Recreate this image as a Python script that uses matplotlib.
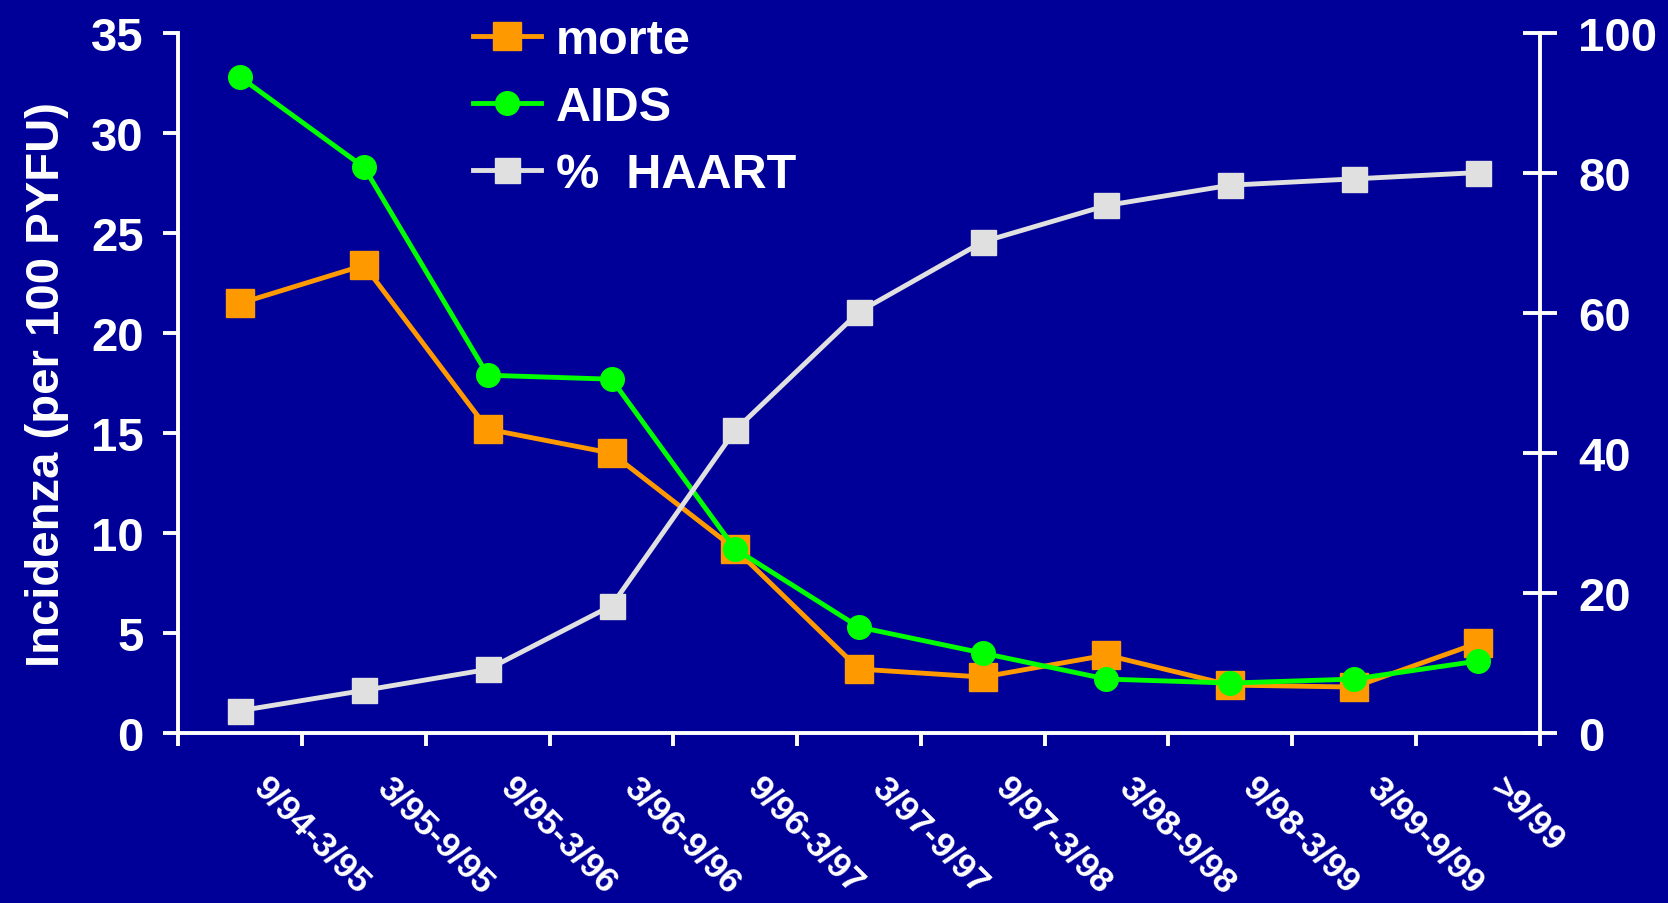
import matplotlib
matplotlib.use("Agg")
import matplotlib.pyplot as plt
import matplotlib.transforms as mtransforms
import numpy as np

# dati
periodi = ["9/94-3/95", "3/95-9/95", "9/95-3/96", "3/96-9/96", "9/96-3/97",
           "3/97-9/97", "9/97-3/98", "3/98-9/98", "9/98-3/99", "3/99-9/99", ">9/99"]
morte = [21.5, 23.4, 15.2, 14.0, 9.2, 3.2, 2.8, 3.9, 2.4, 2.3, 4.5]
aids = [32.8, 28.3, 17.9, 17.7, 9.2, 5.3, 4.0, 2.7, 2.5, 2.7, 3.6]
haart = [3.2, 6.1, 9.1, 18.2, 43.3, 60.2, 70.2, 75.4, 78.3, 79.2, 80.1]

BG = "#000099"
WHITE = "white"

plt.rcParams["font.family"] = ["Liberation Sans", "DejaVu Sans"]
plt.rcParams["font.weight"] = "bold"

fig = plt.figure(figsize=(16.68, 9.04), dpi=100, facecolor=BG)
ax = fig.add_axes([0.107, 0.188, 0.816, 0.774])
ax.set_facecolor(BG)
ax2 = ax.twinx()

x = np.arange(len(periodi))

l1, = ax.plot(x, morte, color="#FF9900", lw=3.5, marker="s", ms=20,
              mec="#FF9900", label="morte", zorder=3)
l2, = ax.plot(x, aids, color="#00FF00", lw=3.5, marker="o", ms=17,
              mec="#00FF00", label="AIDS", zorder=4)
l3, = ax2.plot(x, haart, color="#E0E0E0", lw=3.5, marker="s", ms=18,
               mec="#E0E0E0", label="%  HAART")

ax.set_xlim(-0.5, len(periodi) - 0.5)
ax.set_ylim(0, 35)
ax2.set_ylim(0, 100)
ax.set_yticks(range(0, 36, 5))
ax2.set_yticks(range(0, 101, 20))

for a in (ax, ax2):
    for s in a.spines.values():
        s.set_color(WHITE)
        s.set_linewidth(2.8)
    a.spines["top"].set_visible(False)

ax.spines["right"].set_visible(False)
ax2.spines["left"].set_visible(False)
ax2.spines["bottom"].set_visible(False)

# tacche ai confini delle classi, etichette al centro
ax.set_xticks(np.arange(-0.5, len(periodi)), labels=[])
ax.set_xticks(x, minor=True)
ax.set_xticklabels(periodi, minor=True, rotation=-45, ha="left", va="center",
                   rotation_mode="anchor", fontsize=25.5, color=WHITE, fontweight="bold")
ax.tick_params(axis="x", which="major", direction="out", length=9, width=2.8, color=WHITE)
ax.tick_params(axis="x", which="minor", length=0, pad=35)
off = mtransforms.ScaledTranslation(18 / 100, 0, fig.dpi_scale_trans)
for lab in ax.get_xticklabels(minor=True):
    lab.set_transform(lab.get_transform() + off)

ax.tick_params(axis="y", direction="out", length=11, width=2.8, color=WHITE,
               labelcolor=WHITE, labelsize=34, pad=14)
ax2.tick_params(axis="y", direction="inout", length=24, width=2.8, color=WHITE,
                labelcolor=WHITE, labelsize=34, pad=16)

ax.set_ylabel("Incidenza (per 100 PYFU)", color=WHITE, fontsize=34,
              fontweight="bold", labelpad=16)

leg = fig.legend(handles=[l1, l2, l3], loc="upper left",
                 bbox_to_anchor=(0.272, 1.0), frameon=False, fontsize=35,
                 handlelength=1.4, handletextpad=0.3, labelspacing=0.45,
                 borderaxespad=0)
for t in leg.get_texts():
    t.set_color(WHITE)
    t.set_fontweight("bold")

fig.savefig("out.png", dpi=100, facecolor=BG)
